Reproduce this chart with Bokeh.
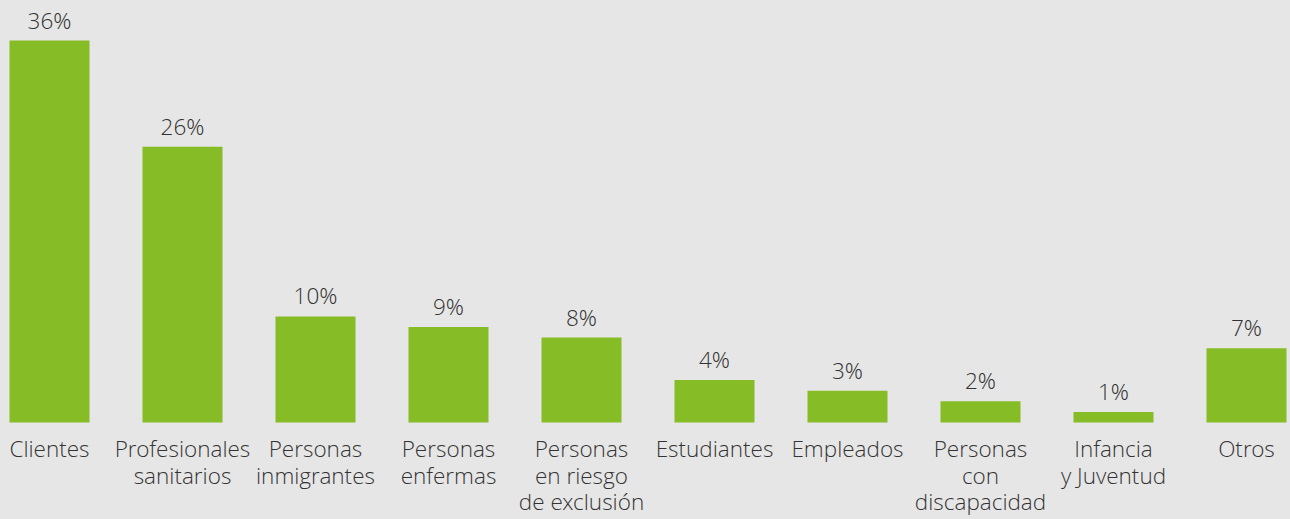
from bokeh.plotting import figure
from bokeh.models import ColumnDataSource, Range1d
from bokeh.core.properties import value
from bokeh.embed import file_html
from bokeh.resources import INLINE

categories = ["Clientes", "Profesionales\nsanitarios", "Personas\ninmigrantes", "Personas\nenfermas",
              "Personas\nen riesgo\nde exclusión", "Estudiantes", "Empleados", "Personas\ncon\ndiscapacidad",
              "Infancia\ny Juventud", "Otros"]
values = [36, 26, 10, 9, 8, 4, 3, 2, 1, 7]
value_labels = ["36%", "26%", "10%", "9%", "8%", "4%", "3%", "2%", "1%", "7%"]

W, H = 1290, 519
PX_PER_UNIT_Y = 10.61
BASE_PX = 422
STEP = 133.0
FIRST_CENTER = 49.0
FONT = value("'Open Sans Light', 'Open Sans'")

xs = list(range(len(values)))
src = ColumnDataSource(dict(
    x=xs, top=values, lab=value_labels, cat=categories,
    lab_y=[v + 5.0 / PX_PER_UNIT_Y for v in values],
    cat_y=[-10.5 / PX_PER_UNIT_Y] * len(values),
))

x0 = -FIRST_CENTER / STEP
p = figure(width=W, height=H, output_backend="svg", toolbar_location=None,
           x_range=Range1d(x0, x0 + W / STEP),
           y_range=Range1d(-(H - BASE_PX) / PX_PER_UNIT_Y, BASE_PX / PX_PER_UNIT_Y),
           min_border=0, outline_line_color=None,
           background_fill_color="#e6e6e6", border_fill_color="#e6e6e6")
p.axis.visible = False
p.grid.visible = False

p.vbar(x="x", top="top", bottom=0, width=80 / STEP, source=src,
       fill_color="#86bc25", line_color=None)

p.text(x="x", y="lab_y", text="lab", source=src, text_align="center", text_baseline="bottom",
       text_font=FONT, text_font_size="22.5px", text_color="#333333")
p.text(x="x", y="cat_y", text="cat", source=src, text_align="center", text_baseline="top",
       text_font=FONT, text_font_size="22.5px", text_color="#333333",
       text_line_height=0.86)

html = file_html(p, INLINE)
html = html.replace("<head>", "<head><style>html,body{margin:0;padding:0;overflow:hidden;background:#e6e6e6;}</style>", 1)
open("out.html", "w").write(html)
